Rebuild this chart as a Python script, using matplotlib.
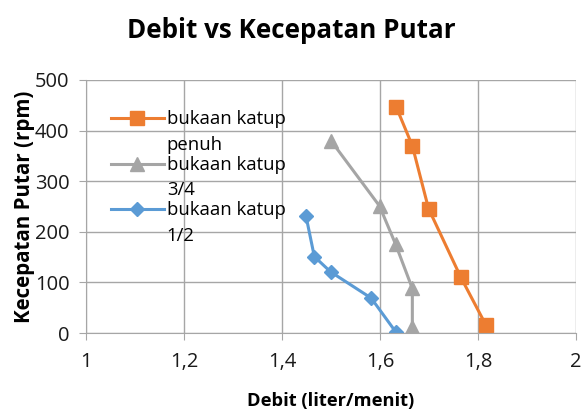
import matplotlib
matplotlib.use('Agg')
import matplotlib.pyplot as plt
from matplotlib.ticker import FuncFormatter

plt.rcParams['font.family'] = ['Open Sans', 'DejaVu Sans']

# data
debit_penuh = [1.633, 1.666, 1.699, 1.765, 1.816]
rpm_penuh = [447, 370, 246, 110, 16]

debit_34 = [1.500, 1.599, 1.632, 1.666, 1.666]
rpm_34 = [380, 251, 175, 88, 12]

debit_12 = [1.449, 1.466, 1.499, 1.582, 1.633]
rpm_12 = [231, 151, 121, 69, 1]

labels = ["bukaan katup\npenuh", "bukaan katup\n3/4", "bukaan katup\n1/2"]
x_ticks = [1, 1.2, 1.4, 1.6, 1.8, 2]
y_ticks = [0, 100, 200, 300, 400, 500]

fig = plt.figure(figsize=(5.83, 4.13), dpi=100)
ax = fig.add_axes([0.1475, 0.1937, 0.8405, 0.6126])

ax.plot(debit_penuh, rpm_penuh, color='#ED7D31', lw=2.2, marker='s', ms=10.5, label=labels[0])
ax.plot(debit_34, rpm_34, color='#A5A5A5', lw=2.2, marker='^', ms=10.5, label=labels[1])
ax.plot(debit_12, rpm_12, color='#5B9BD5', lw=2.2, marker='D', ms=7.5, label=labels[2])

ax.set_xlim(1, 2)
ax.set_ylim(0, 500)
ax.set_xticks(x_ticks)
ax.set_yticks(y_ticks)
ax.xaxis.set_major_formatter(FuncFormatter(lambda v, p: ('%g' % v).replace('.', ',')))
ax.grid(True, color='#A6A6A6', lw=1)
ax.set_axisbelow(True)
for s in ['top', 'right']:
    ax.spines[s].set_visible(False)
for s in ['left', 'bottom']:
    ax.spines[s].set_color('#A6A6A6')
ax.tick_params(colors='#A6A6A6', labelcolor='#1a1a1a', labelsize=14.5, length=5)
ax.tick_params(axis='x', pad=9)
ax.tick_params(axis='y', pad=7)

fig.suptitle("Debit vs Kecepatan Putar", x=0.5, y=0.927, va='center', fontsize=18.7, fontweight='bold')
ax.set_xlabel("Debit (liter/menit)", fontsize=13.2, fontweight='bold', labelpad=14)
ax.set_ylabel("Kecepatan Putar (rpm)", fontsize=14.8, fontweight='bold', labelpad=0)

leg = ax.legend(loc='upper left', bbox_to_anchor=(0.035, 0.91), frameon=False, fontsize=13.3,
                handlelength=2.9, handleheight=1.2, handletextpad=0.15, labelspacing=0.1,
                borderaxespad=0.0)
for t in leg.get_texts():
    t.set_linespacing(1.55)
# line the handles up with the first line of each label
for column in leg._legend_handle_box.get_children():
    for item in column.get_children():
        item.align = 'top'

fig.savefig('out.png', dpi=100)
